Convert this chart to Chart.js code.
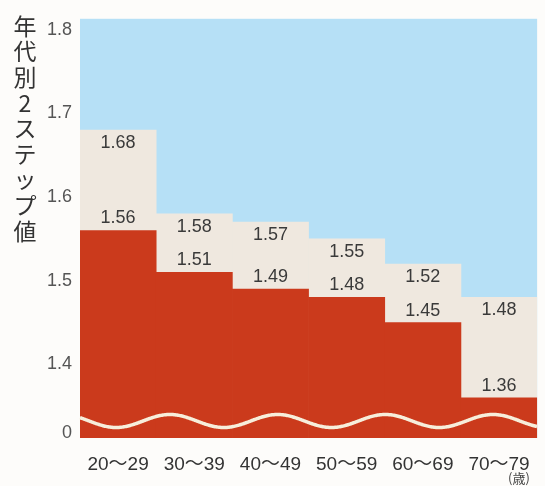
<!DOCTYPE html>
<html>
<head>
<meta charset="utf-8">
<script src="https://cdn.jsdelivr.net/npm/chart.js@4/dist/chart.umd.min.js"></script>
<style>
  html, body { margin: 0; padding: 0; background: #fdfcfa; }
  #wrap { width: 545px; height: 486px; }
</style>
</head>
<body>
<div id="wrap"><canvas id="c" width="545" height="486"></canvas></div>
<script>
// Age groups and the two-step values for each group
const ageGroups = ['20～29', '30～39', '40～49', '50～59', '60～69', '70～79'];
const upperValues = [1.68, 1.58, 1.57, 1.55, 1.52, 1.48];
const lowerValues = [1.56, 1.51, 1.49, 1.48, 1.45, 1.36];

// Broken y axis: the "0" tick sits just above the bottom of the truncated scale
const yTickValues = [1.318, 1.4, 1.5, 1.6, 1.7, 1.8];
const yTickLabels = ['0', '1.4', '1.5', '1.6', '1.7', '1.8'];
const yMin = 1.312;
const yMax = 1.813;

const axisTitle = '年代別2ステップ値';
const unitLabel = '(歳)';

const SKY = '#b6e0f6';
const SAND = '#efe8df';
const BRICK = '#cb3a1c';
const INK = '#3a3a3a';

// Paints the page and the sky-blue plot panel
const panelPlugin = {
  id: 'panel',
  beforeDraw(chart) {
    const { ctx, chartArea: a } = chart;
    ctx.save();
    ctx.fillStyle = '#fdfcfa';
    ctx.fillRect(0, 0, chart.width, chart.height);
    ctx.fillStyle = SKY;
    ctx.fillRect(a.left, a.top, a.right - a.left, a.bottom - a.top);
    ctx.restore();
  }
};

// Value labels, the wavy axis-break line, the vertical axis title and the unit
const decorPlugin = {
  id: 'decor',
  afterDatasetsDraw(chart) {
    const { ctx, chartArea: a } = chart;
    ctx.save();

    // wavy break line across the bars
    const mid = a.bottom - 17, amp = 6.5, period = 107.7, phase = 143;
    ctx.beginPath();
    for (let x = a.left; x <= a.right; x += 1) {
      const y = mid - amp * Math.sin(2 * Math.PI * (x - phase) / period);
      if (x === a.left) ctx.moveTo(x, y); else ctx.lineTo(x, y);
    }
    ctx.strokeStyle = '#f7eedb';
    ctx.lineWidth = 3.5;
    ctx.stroke();

    // value labels
    ctx.font = '18px "Liberation Sans", Arial, sans-serif';
    ctx.fillStyle = INK;
    ctx.textAlign = 'center';
    ctx.textBaseline = 'middle';
    const lowMeta = chart.getDatasetMeta(0);
    const upMeta = chart.getDatasetMeta(1);
    upMeta.data.forEach((bar, i) => {
      ctx.fillText(upperValues[i].toFixed(2), bar.x, bar.y + 13);
    });
    lowMeta.data.forEach((bar, i) => {
      ctx.fillText(lowerValues[i].toFixed(2), bar.x, bar.y - 12);
    });

    // vertical axis title, one upright character per line
    ctx.font = '23px "Noto Sans CJK JP", sans-serif';
    ctx.fillStyle = '#333';
    [...axisTitle].forEach((ch, i) => {
      ctx.fillText(ch, 25, 26 + i * 25.6);
    });

    // unit under the last age group
    ctx.font = '13px "Noto Sans CJK JP", sans-serif';
    ctx.fillStyle = '#444';
    ctx.fillText(unitLabel, 519, 478);

    ctx.restore();
  }
};

new Chart(document.getElementById('c'), {
  type: 'bar',
  data: {
    labels: ageGroups,
    datasets: [
      {
        data: lowerValues,
        backgroundColor: BRICK,
        borderWidth: 0,
        grouped: false,
        categoryPercentage: 1,
        barPercentage: 1,
        order: 0
      },
      {
        data: upperValues,
        backgroundColor: SAND,
        borderWidth: 0,
        grouped: false,
        categoryPercentage: 1,
        barPercentage: 1,
        order: 1
      }
    ]
  },
  options: {
    responsive: false,
    animation: false,
    devicePixelRatio: 1,
    layout: { padding: { top: 12, right: 4, left: 0, bottom: 0 } },
    plugins: {
      legend: { display: false },
      tooltip: { enabled: false },
      title: { display: false }
    },
    scales: {
      x: {
        grid: { display: false, drawTicks: false },
        border: { display: false },
        ticks: {
          padding: 15,
          color: '#333',
          font: { family: '"Liberation Sans", "Noto Sans CJK JP", sans-serif', size: 19 }
        },
        afterFit(scale) { scale.height = 48; }
      },
      y: {
        min: yMin,
        max: yMax,
        grid: { display: false, drawTicks: false },
        border: { display: false },
        afterBuildTicks(scale) {
          scale.ticks = yTickValues.map(v => ({ value: v }));
        },
        ticks: {
          padding: 8,
          color: '#555',
          font: { family: '"Liberation Sans", Arial, sans-serif', size: 18 },
          callback: (value, index) => yTickLabels[index]
        },
        afterFit(scale) { scale.width = 80; }
      }
    }
  },
  plugins: [panelPlugin, decorPlugin]
});
</script>
</body>
</html>
